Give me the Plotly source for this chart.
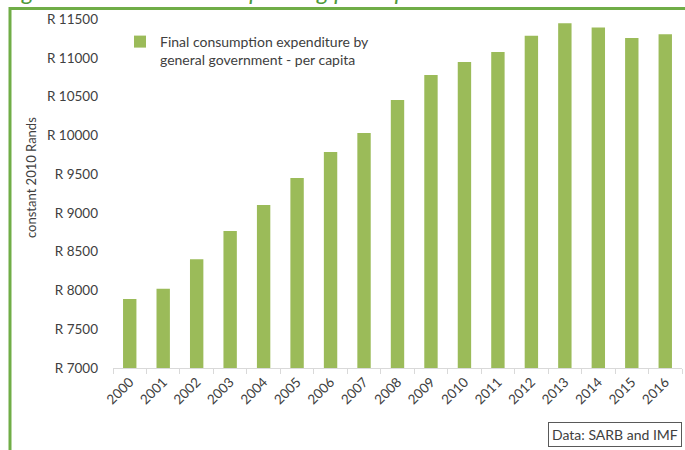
import plotly.graph_objects as go

# Government final consumption expenditure per capita, constant 2010 Rands
years = ["2000", "2001", "2002", "2003", "2004", "2005", "2006", "2007", "2008",
         "2009", "2010", "2011", "2012", "2013", "2014", "2015", "2016"]
spend_per_capita = [7890, 8022, 8402, 8766, 9102, 9450, 9785, 10030, 10456,
                    10778, 10945, 11075, 11285, 11444, 11392, 11255, 11302]

series_name = "Final consumption expenditure by<br>general government - per capita"
y_title = "constant 2010 Rands"
source_note = "Data: SARB and IMF"
page_title = "Figure 13: Government spending per capita"

W, H = 685, 450
L, R, T, B = 113, 3, 19, 82
pw, ph = W - L - R, H - T - B

def px(x):
    return (x - L) / pw

def py(y):
    return (H - B - y) / ph

FONT = "Lato, 'Open Sans', sans-serif"
TXT = "#404040"
BAR = "#9BBB59"
FRAME = "#70AD47"

fig = go.Figure(
    go.Bar(
        x=years,
        y=spend_per_capita,
        name=series_name,
        marker=dict(color=BAR, line=dict(width=0)),
        showlegend=True,
    )
)

fig.update_layout(
    width=W,
    height=H,
    margin=dict(l=L, r=R, t=T, b=B),
    paper_bgcolor="white",
    plot_bgcolor="white",
    bargap=0.6,
    font=dict(family=FONT, size=13, color=TXT),
    legend=dict(
        x=px(120), y=py(26), xanchor="left", yanchor="top",
        bgcolor="rgba(0,0,0,0)", font=dict(size=14, color=TXT),
        valign="top",
    ),
    xaxis=dict(
        type="category",
        showgrid=False,
        showline=True, linecolor="#d9d9d9", linewidth=1,
        ticks="outside", tickson="boundaries", ticklen=5, tickcolor="#d9d9d9",
        tickangle=-45, tickfont=dict(size=13.5, color=TXT),
    ),
    yaxis=dict(
        range=[7000, 11500],
        dtick=500,
        tickformat="d",
        tickprefix="R ",
        showgrid=False,
        showline=False,
        zeroline=False,
        ticks="",
        ticklabelstandoff=14,
        tickfont=dict(size=13.5, color=TXT),
    ),
    shapes=[
        dict(type="rect", xref="paper", yref="paper",
             x0=px(10), x1=px(700), y0=py(470), y1=py(8.5),
             line=dict(color=FRAME, width=3), fillcolor="rgba(0,0,0,0)",
             layer="below"),
    ],
    annotations=[
        # rotated y-axis title
        dict(text=y_title, xref="paper", yref="paper",
             x=px(31), y=py(178), xanchor="center", yanchor="middle",
             textangle=-90, showarrow=False,
             font=dict(size=13, color=TXT)),
        dict(text=source_note, xref="paper", yref="paper",
             x=px(682), y=py(447), xanchor="right", yanchor="bottom",
             showarrow=False, font=dict(size=14, color=TXT),
             bordercolor="#595959", borderwidth=1, borderpad=3,
             bgcolor="white"),
        # page heading running off the top edge
        dict(text="<i>" + page_title + "</i>", xref="paper", yref="paper",
             x=px(2), y=py(-9.5), xanchor="left", yanchor="middle",
             showarrow=False, font=dict(size=24, color="#4E9A3A")),
    ],
)

fig.write_html("out.html")
